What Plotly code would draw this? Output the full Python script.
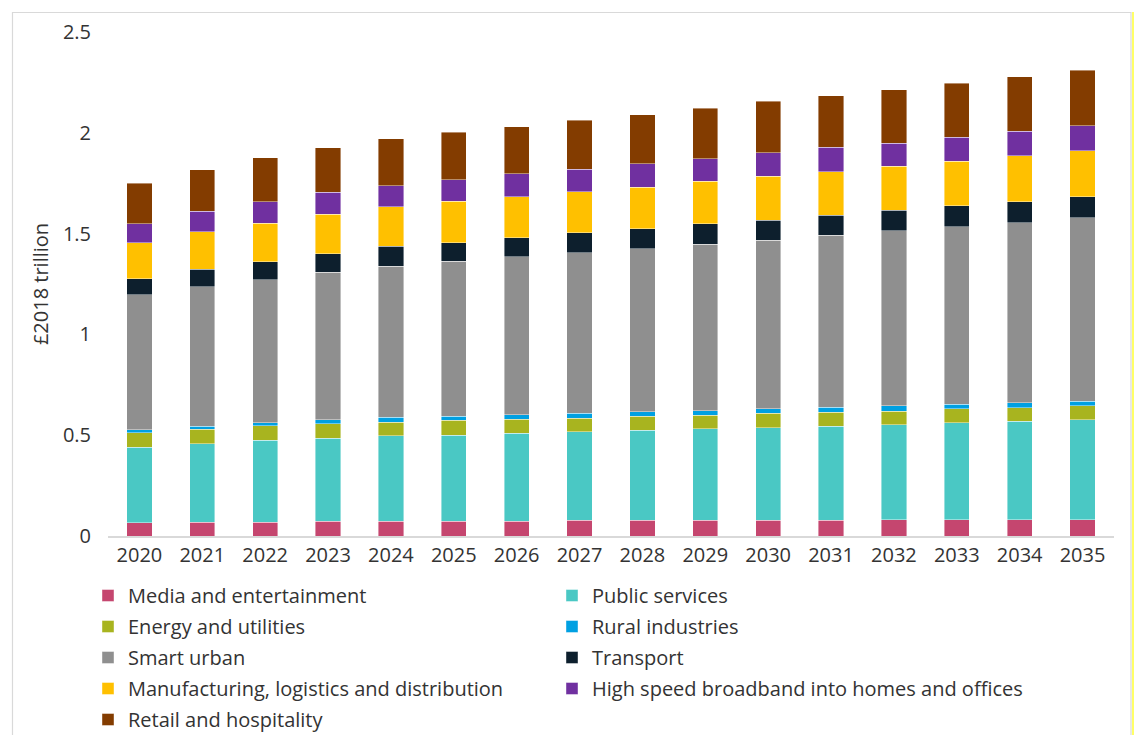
import plotly.graph_objects as go

years = [str(y) for y in range(2020, 2036)]

media = [0.066, 0.069, 0.069, 0.073, 0.073, 0.073, 0.073, 0.078, 0.078, 0.078, 0.078, 0.078, 0.081, 0.081, 0.081, 0.081]
public_services = [0.375, 0.389, 0.406, 0.413, 0.425, 0.427, 0.436, 0.438, 0.446, 0.453, 0.460, 0.466, 0.472, 0.480, 0.488, 0.496]
energy = [0.072, 0.071, 0.071, 0.072, 0.067, 0.074, 0.071, 0.069, 0.070, 0.069, 0.071, 0.070, 0.067, 0.069, 0.068, 0.068]
rural = [0.015, 0.015, 0.015, 0.019, 0.024, 0.020, 0.022, 0.024, 0.023, 0.022, 0.021, 0.024, 0.025, 0.023, 0.025, 0.023]
smart_urban = [0.669, 0.693, 0.709, 0.731, 0.750, 0.770, 0.782, 0.795, 0.807, 0.825, 0.837, 0.854, 0.868, 0.882, 0.893, 0.911]
transport = [0.080, 0.087, 0.091, 0.093, 0.099, 0.091, 0.096, 0.101, 0.101, 0.103, 0.100, 0.100, 0.103, 0.104, 0.104, 0.103]
manufacturing = [0.178, 0.184, 0.190, 0.195, 0.196, 0.205, 0.204, 0.203, 0.206, 0.209, 0.217, 0.216, 0.219, 0.220, 0.228, 0.230]
broadband = [0.095, 0.103, 0.106, 0.109, 0.104, 0.106, 0.112, 0.111, 0.116, 0.113, 0.116, 0.120, 0.114, 0.120, 0.120, 0.122]
retail = [0.201, 0.206, 0.220, 0.222, 0.233, 0.236, 0.235, 0.243, 0.243, 0.251, 0.256, 0.255, 0.265, 0.268, 0.272, 0.276]

# (name, values, colour, legend column)
series = [
    ("Media and entertainment", media, "#C5466F", "legend"),
    ("Public services", public_services, "#4AC8C4", "legend2"),
    ("Energy and utilities", energy, "#A8B41F", "legend"),
    ("Rural industries", rural, "#00A0E2", "legend2"),
    ("Smart urban", smart_urban, "#8F8F8F", "legend"),
    ("Transport", transport, "#0D1F2D", "legend2"),
    ("Manufacturing, logistics and distribution", manufacturing, "#FFC000", "legend"),
    ("High speed broadband into homes and offices", broadband, "#7030A0", "legend2"),
    ("Retail and hospitality", retail, "#833C00", "legend"),
]

FONT = "Open Sans"
TEXT = "#333333"
SIZE = 20

fig = go.Figure()
for i, (name, vals, colour, leg) in enumerate(series):
    fig.add_trace(go.Bar(
        x=years, y=vals, name=name,
        marker=dict(color=colour, line=dict(color="rgba(255,255,255,0.7)", width=0.6)),
        legend=leg, legendgroup=f"g{i}",
    ))

# plot area: x 108..1114 px, y 32..536 px
L, R, T, B = 108, 22, 32, 199
W, H = 1136 - L - R, 735 - T - B

def px_x(p):
    return (p - L) / W

def px_y(p):
    return (T + H - p) / H

legend_common = dict(
    orientation="v", traceorder="grouped", tracegroupgap=2,
    font=dict(family=FONT, size=SIZE, color=TEXT),
    bgcolor="rgba(0,0,0,0)", borderwidth=0,
    xanchor="left", yanchor="top", itemclick=False, itemdoubleclick=False,
)

fig.update_layout(
    width=1136, height=735,
    margin=dict(l=L, r=R, t=T, b=B, autoexpand=False),
    paper_bgcolor="white", plot_bgcolor="white",
    barmode="stack", bargap=0.6,
    font=dict(family=FONT, size=SIZE, color=TEXT),
    xaxis=dict(
        type="category", showgrid=False, zeroline=False,
        showline=True, linecolor="#D9D9D9", linewidth=1.5,
        ticks="", tickfont=dict(family=FONT, size=SIZE, color=TEXT),
    ),
    yaxis=dict(
        range=[0, 2.5], tickvals=[0, 0.5, 1, 1.5, 2, 2.5],
        ticktext=["0", "0.5", "1", "1.5", "2", "2.5"],
        showgrid=False, zeroline=False, showline=False, ticks="",
        ticklabelstandoff=16,
        tickfont=dict(family=FONT, size=SIZE, color=TEXT),
        title=dict(text="£2018 trillion", font=dict(family=FONT, size=SIZE, color=TEXT), standoff=8),
    ),
    legend=dict(x=px_x(88), y=px_y(576), **legend_common),
    legend2=dict(x=px_x(552), y=px_y(576), **legend_common),
    shapes=[
        dict(type="rect", xref="paper", yref="paper",
             x0=px_x(12.5), x1=px_x(1131), y0=px_y(760), y1=px_y(12.5),
             line=dict(color="#D9D9D9", width=1.2), fillcolor="rgba(0,0,0,0)", layer="below"),
        dict(type="line", xref="paper", yref="paper",
             x0=px_x(1133), x1=px_x(1133), y0=px_y(760), y1=px_y(12),
             line=dict(color="#FFFF00", width=1.2)),
    ],
)

fig.write_html("out.html")
